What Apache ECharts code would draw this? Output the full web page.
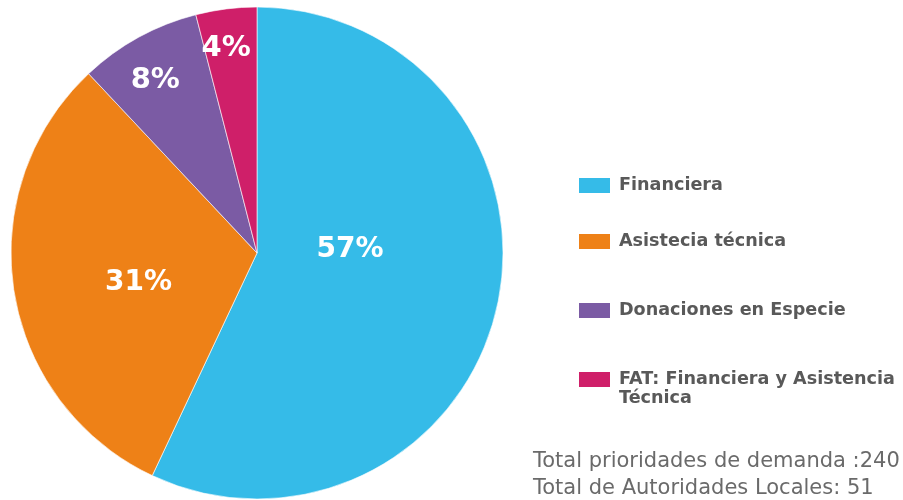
<!DOCTYPE html>
<html><head><meta charset="utf-8">
<script src="https://cdn.jsdelivr.net/npm/echarts@6/dist/echarts.min.js"></script>
<style>html,body{margin:0;padding:0;background:#fff}#c{width:903px;height:500px}</style>
</head><body><div id="c"></div>
<script>
const categories = ['Financiera', 'Asistecia técnica', 'Donaciones en Especie', 'FAT: Financiera y Asistencia\nTécnica'];
const values = [57, 31, 8, 4];
const colors = ['#35bbe8', '#ee8117', '#7b5ba4', '#cf1f69'];
const noteLines = ['Total prioridades de demanda :240', 'Total de Autoridades Locales: 51'];

const labelOffsets = [[-30, -31], [6, 10], [-41, -62], [-15, -80]];
const labelSizes = [28, 28, 29, 29];
const legendTops = [171, 227, 296, 346];

const chart = echarts.init(document.getElementById('c'));
const legends = categories.map((name, i) => ({
  data: [name],
  orient: 'vertical',
  left: 572,
  top: legendTops[i],
  itemWidth: 33,
  itemHeight: 17,
  itemGap: 6,
  icon: 'rect',
  selectedMode: false,
  formatter: n => n.indexOf('\n') >= 0 ? ' \n' + n : n,
  textStyle: { fontFamily: 'DejaVu Sans', fontWeight: 'bold', fontSize: 17.6, color: '#595959', lineHeight: 19, padding: [0, 0, 0, 3] }
}));

chart.setOption({
  animation: false,
  color: colors,
  title: {
    text: noteLines.join('\n'),
    left: 528, top: 443,
    textStyle: { fontFamily: 'DejaVu Sans', fontWeight: 'normal', fontSize: 21, color: '#6a6a6a', lineHeight: 27 }
  },
  legend: legends,
  series: [{
    type: 'pie',
    center: [257, 253],
    radius: [0, 246],
    startAngle: 90,
    clockwise: true,
    avoidLabelOverlap: false,
    itemStyle: { borderColor: '#fff', borderWidth: 0.6 },
    label: { show: true, position: 'inside', formatter: '{c}%', color: '#fff', fontFamily: 'DejaVu Sans', fontWeight: 'bold' },
    labelLine: { show: false },
    data: categories.map((name, i) => ({
      name: name, value: values[i],
      label: { offset: labelOffsets[i], fontSize: labelSizes[i] }
    }))
  }]
});
</script></body></html>
